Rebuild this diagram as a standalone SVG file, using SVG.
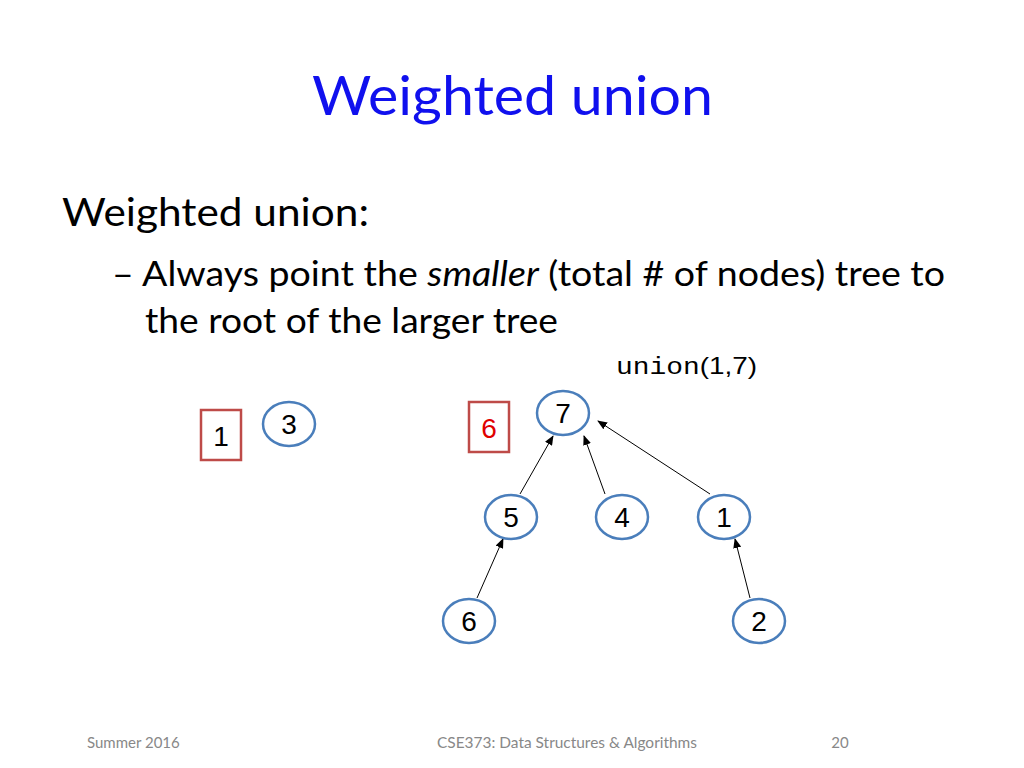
<svg xmlns="http://www.w3.org/2000/svg" width="1024" height="768" viewBox="0 0 1024 768">
<style>
.t{font-family:Lato,"Liberation Sans",sans-serif}
.n ellipse{fill:#fff;stroke:#4a7ebb;stroke-width:2.5}
.n text,.b text{font-family:"Liberation Sans",Arial,sans-serif;font-size:28px;text-anchor:middle}
.b rect{fill:#fff;stroke:#be4b48;stroke-width:2.5}
.c line{stroke:#000;stroke-width:1;marker-end:url(#a)}
.f{font-family:Lato,"Liberation Sans",sans-serif;font-size:15px;fill:#888}
</style>
<defs><marker id="a" markerWidth="10" markerHeight="8" refX="9" refY="4" orient="auto" markerUnits="userSpaceOnUse"><path d="M0,0L10,4L0,8z" fill="#000"/></marker></defs>
<rect width="1024" height="768" fill="#fff"/>
<text class="t" x="312" y="115" font-size="54" fill="#1010ee" textLength="401" lengthAdjust="spacingAndGlyphs">Weighted union</text>
<text class="t" x="62" y="226" font-size="38" textLength="307" lengthAdjust="spacingAndGlyphs">Weighted union:</text>
<text class="t" x="112" y="286" font-size="34" textLength="833" lengthAdjust="spacingAndGlyphs">– Always point the <tspan font-style="italic">smaller</tspan> (total # of nodes) tree to</text>
<text class="t" x="145" y="333" font-size="34" textLength="413" lengthAdjust="spacingAndGlyphs">the root of the larger tree</text>
<text x="616" y="374" font-size="24" textLength="141" lengthAdjust="spacingAndGlyphs"><tspan font-family="Liberation Mono,monospace">union</tspan><tspan font-family="Liberation Sans,sans-serif">(1,7)</tspan></text>
<g class="c">
<line x1="520" y1="494" x2="553" y2="436"/>
<line x1="605" y1="494" x2="584" y2="436"/>
<line x1="710" y1="494" x2="598" y2="421"/>
<line x1="477" y1="598" x2="503" y2="539"/>
<line x1="750" y1="598" x2="735" y2="539"/>
</g>
<g id="box1" class="b"><rect x="201" y="410" width="40" height="50"/><text x="221" y="446">1</text></g>
<g id="box6" class="b"><rect x="469" y="402" width="40" height="50"/><text x="489" y="438" fill="#e00000">6</text></g>
<g id="n3" class="n"><ellipse cx="289" cy="424" rx="26" ry="22"/><text x="289" y="434">3</text></g>
<g id="n7" class="n"><ellipse cx="563" cy="413" rx="26" ry="22"/><text x="563" y="423">7</text></g>
<g id="n5" class="n"><ellipse cx="511" cy="517" rx="26" ry="22"/><text x="511" y="527">5</text></g>
<g id="n4" class="n"><ellipse cx="622" cy="517" rx="26" ry="22"/><text x="622" y="527">4</text></g>
<g id="n1" class="n"><ellipse cx="724" cy="517" rx="26" ry="22"/><text x="724" y="527">1</text></g>
<g id="n6" class="n"><ellipse cx="469" cy="621" rx="26" ry="22"/><text x="469" y="631">6</text></g>
<g id="n2" class="n"><ellipse cx="759" cy="621" rx="26" ry="22"/><text x="759" y="631">2</text></g>
<text class="f" x="87" y="748">Summer 2016</text>
<text class="f" x="437" y="748" textLength="260" lengthAdjust="spacingAndGlyphs">CSE373: Data Structures &amp; Algorithms</text>
<text class="f" x="840" y="748" text-anchor="middle">20</text>
</svg>
